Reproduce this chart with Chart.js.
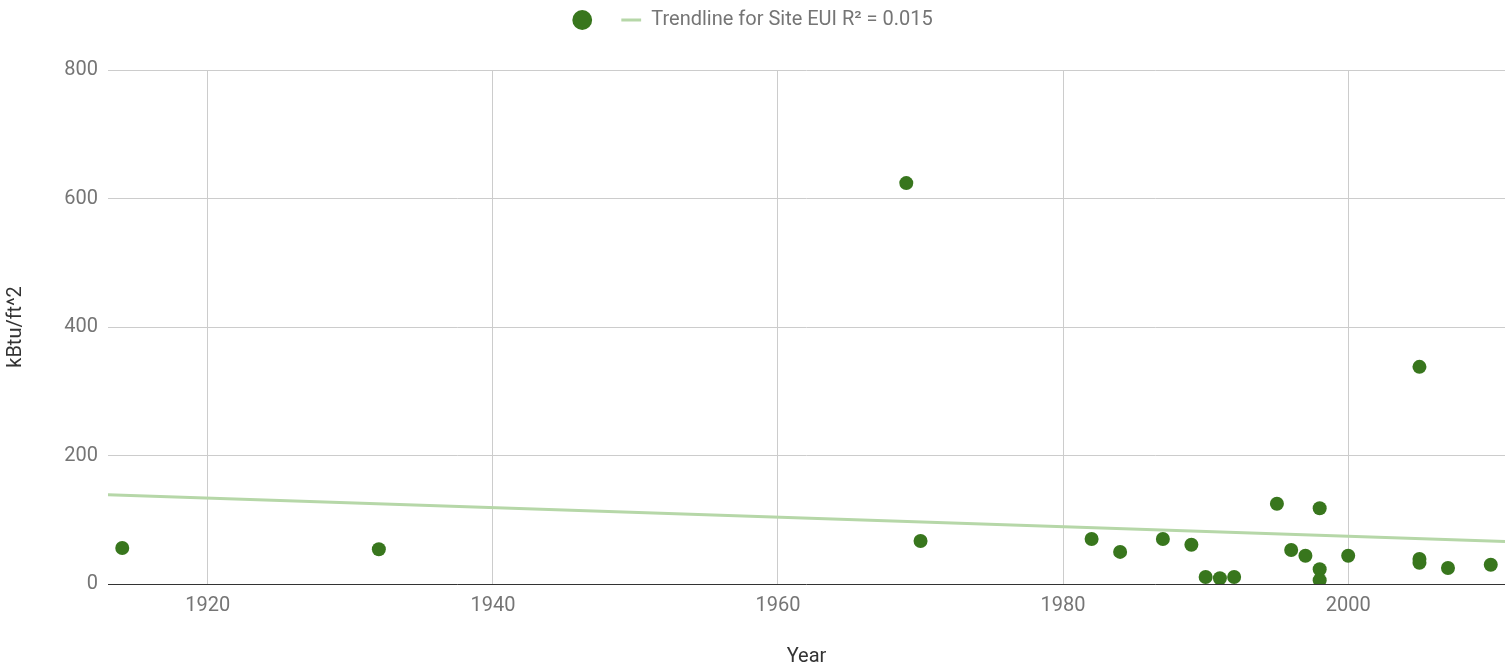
<!DOCTYPE html>
<html>
<head>
<meta charset="utf-8">
<script src="https://cdn.jsdelivr.net/npm/chart.js@4.4.0/dist/chart.umd.min.js"></script>
<style>
  html, body { margin: 0; padding: 0; background: #fff; }
  #wrap { width: 1512px; height: 669px; }
</style>
</head>
<body>
<div id="wrap"><canvas id="myChart" width="1512" height="669"></canvas></div>
<script>
// Datos
const years = [1914, 1932, 1969, 1970, 1982, 1984, 1987, 1989, 1990, 1991, 1992, 1995, 1996, 1997, 1998, 1998, 1998, 2000, 2005, 2005, 2005, 2007, 2010];
const siteEUI = [56, 54, 624, 67, 70, 50, 70, 61, 11, 9, 11, 125, 53, 44, 23, 6, 118, 44, 338, 39, 33, 25, 30];

// Extremos de la línea de tendencia
const trendYears = [1913, 2011];
const trendValues = [139, 66];

const trendLabel = 'Trendline for Site EUI R² = 0.015';
const xTicks = [1920, 1940, 1960, 1980, 2000];
const yTicks = [0, 200, 400, 600, 800];

// Altura fija de la leyenda para dejar el área del gráfico en su sitio
const legendSpacing = {
    id: 'legendSpacing',
    beforeInit(chart) {
        const fit = chart.legend.fit;
        chart.legend.fit = function() {
            fit.call(this);
            this.height = 79;
        };
    }
};

const ctx = document.getElementById('myChart').getContext('2d');

const chart = new Chart(ctx, {
    type: 'scatter',
    data: {
        datasets: [{
            label: '',
            data: years.map((x, i) => ({ x: x, y: siteEUI[i] })),
            backgroundColor: '#38761d',
            borderColor: '#38761d',
            borderWidth: 0,
            pointRadius: 7,
            pointHoverRadius: 7,
            pointStyle: 'circle'
        }, {
            type: 'line',
            label: trendLabel,
            data: trendYears.map((x, i) => ({ x: x, y: trendValues[i] })),
            borderColor: '#b6d7a8',
            backgroundColor: '#b6d7a8',
            borderWidth: 3,
            pointRadius: 0,
            pointStyle: 'line',
            order: 1
        }]
    },
    options: {
        responsive: false,
        animation: false,
        events: [],
        layout: { padding: { top: -9, right: 7, left: 0, bottom: 0 } },
        plugins: {
            legend: {
                display: true,
                position: 'top',
                labels: {
                    usePointStyle: true,
                    boxHeight: 14,
                    padding: 19,
                    color: '#757575',
                    font: { family: 'Roboto', size: 20 }
                }
            },
            tooltip: { enabled: false }
        },
        scales: {
            x: {
                type: 'linear',
                min: 1913,
                max: 2011,
                afterBuildTicks: (axis) => { axis.ticks = xTicks.map(v => ({ value: v })); },
                afterFit: (axis) => { axis.height = 85; },
                grid: { color: '#cccccc', drawTicks: false },
                border: { display: false },
                ticks: {
                    padding: 10,
                    color: '#757575',
                    font: { family: 'Roboto', size: 20 },
                    callback: (v) => String(v)
                },
                title: {
                    display: true,
                    text: 'Year',
                    color: '#333333',
                    font: { family: 'Roboto', size: 20 },
                    padding: { top: 10, bottom: 0 }
                }
            },
            y: {
                min: 0,
                max: 800,
                afterBuildTicks: (axis) => { axis.ticks = yTicks.map(v => ({ value: v })); },
                afterFit: (axis) => { axis.width = 108; },
                grid: {
                    color: (c) => c.tick && c.tick.value === 0 ? '#333333' : '#cccccc',
                    drawTicks: false
                },
                border: { display: false },
                ticks: {
                    padding: 10,
                    color: '#757575',
                    font: { family: 'Roboto', size: 20 }
                },
                title: {
                    display: true,
                    text: 'kBtu/ft^2',
                    color: '#333333',
                    font: { family: 'Roboto', size: 20 }
                }
            }
        }
    },
    plugins: [legendSpacing]
});
</script>
</body>
</html>
